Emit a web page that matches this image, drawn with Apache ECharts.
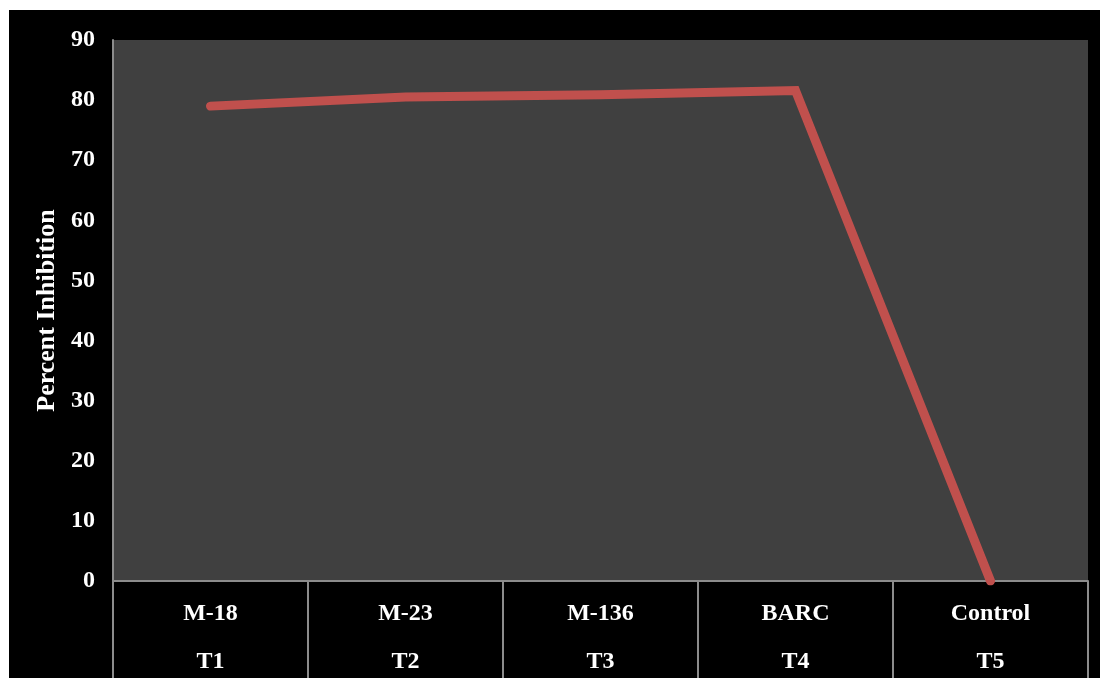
<!DOCTYPE html>
<html>
<head>
<meta charset="utf-8">
<script src="https://cdn.jsdelivr.net/npm/echarts@6/dist/echarts.min.js"></script>
<style>
  html, body { margin: 0; padding: 0; background: #ffffff; }
  #chart { width: 1100px; height: 684px; }
</style>
</head>
<body>
<div id="chart"></div>
<script>
// Strain names with their treatment codes
const strains = ['M-18', 'M-23', 'M-136', 'BARC', 'Control'];
const treatments = ['T1', 'T2', 'T3', 'T4', 'T5'];
// Percent inhibition per treatment
const inhibition = [79.0, 80.5, 80.9, 81.6, 0];
// Y axis scale
const yMin = 0, yMax = 90, yStep = 10;

const categories = strains.map((s, i) => s + '\n' + treatments[i]);
const gridLine = '#8c8c8c';
const serif = '"Liberation Serif", "Times New Roman", serif';

const chart = echarts.init(document.getElementById('chart'));
chart.setOption({
  backgroundColor: '#ffffff',
  animation: false,
  graphic: [{
    type: 'rect',
    shape: { x: 9, y: 10, width: 1091, height: 668 },
    style: { fill: '#000000' },
    z: -10,
    silent: true
  }],
  grid: {
    left: 113, right: 12, top: 40, bottom: 103,
    outerBoundsMode: 'none',
    containLabel: false,
    show: true,
    backgroundColor: '#404040',
    borderWidth: 0
  },
  xAxis: {
    type: 'category',
    data: categories,
    boundaryGap: true,
    axisLine: { show: true, lineStyle: { color: gridLine, width: 2 } },
    axisTick: { show: true, length: 97, interval: 0, lineStyle: { color: gridLine, width: 2 } },
    axisLabel: {
      interval: 0,
      margin: 9,
      color: '#ffffff',
      fontFamily: serif,
      fontWeight: 'bold',
      fontSize: 24,
      lineHeight: 48
    },
    splitLine: { show: false }
  },
  yAxis: {
    type: 'value',
    min: yMin, max: yMax, interval: yStep,
    name: 'Percent Inhibition',
    nameLocation: 'middle',
    nameRotate: 90,
    nameGap: 49,
    nameTextStyle: {
      color: '#ffffff',
      fontFamily: serif,
      fontWeight: 'bold',
      fontSize: 26
    },
    axisLine: { show: true, lineStyle: { color: gridLine, width: 2 } },
    axisTick: { show: false },
    axisLabel: {
      margin: 18,
      color: '#ffffff',
      fontFamily: serif,
      fontWeight: 'bold',
      fontSize: 24
    },
    splitLine: { show: false }
  },
  series: [{
    type: 'line',
    data: inhibition,
    symbol: 'none',
    lineStyle: { color: '#c0504d', width: 9, cap: 'round', join: 'miter' },
    z: 3
  }]
});
</script>
</body>
</html>
